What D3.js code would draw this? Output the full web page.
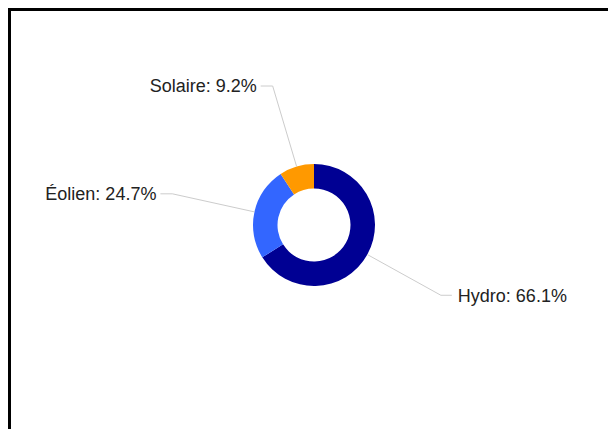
<!DOCTYPE html>
<html>
<head>
<meta charset="utf-8">
<script src="https://cdn.jsdelivr.net/npm/d3@7"></script>
<style>
  html, body { margin: 0; padding: 0; background: #fff; overflow: hidden; }
  svg { display: block; }
</style>
</head>
<body>
<svg id="chart" width="608" height="429"></svg>
<script>
const categories = ["Hydro", "Éolien", "Solaire"];
const values = [66.1, 24.7, 9.2];
const colors = ["#000093", "#3366ff", "#ff9900"];

const svg = d3.select("#chart");

// frame (extends past the visible window on the right/bottom)
svg.append("rect")
  .attr("x", 9.5).attr("y", 9.5)
  .attr("width", 700).attr("height", 600)
  .attr("fill", "none").attr("stroke", "#000").attr("stroke-width", 3);

const cx = 314, cy = 225;
const outerR = 61, innerR = 36.5;

const data = categories.map((c, i) => ({ name: c, value: values[i], color: colors[i] }));

const pie = d3.pie().sort(null).value(d => d.value);
const arcs = pie(data);
const arc = d3.arc().innerRadius(innerR).outerRadius(outerR);

const g = svg.append("g").attr("transform", `translate(${cx},${cy})`);

g.selectAll("path.slice").data(arcs).join("path")
  .attr("class", "slice")
  .attr("d", arc)
  .attr("fill", d => d.data.color);

const polar = (r, a) => [r * Math.sin(a), -r * Math.cos(a)];
const elbowR = 145;

arcs.forEach(d => {
  const mid = (d.startAngle + d.endAngle) / 2;
  const p0 = polar(outerR, mid);
  const p1 = polar(elbowR, mid);
  const right = Math.sin(mid) > 0;
  const p2 = [p1[0] + (right ? 11 : -12), p1[1]];
  g.append("polyline")
    .attr("points", [p0, p1, p2].map(p => p.join(",")).join(" "))
    .attr("fill", "none")
    .attr("stroke", "#cccccc")
    .attr("stroke-width", 1);
  g.append("text")
    .attr("x", p2[0] + (right ? 6 : -4))
    .attr("y", p2[1])
    .attr("dy", "0.35em")
    .attr("text-anchor", right ? "start" : "end")
    .attr("font-family", "Arial, 'Liberation Sans', sans-serif")
    .attr("font-size", 18)
    .attr("fill", "#222")
    .text(`${d.data.name}: ${d3.format(".1f")(d.data.value)}%`);
});
</script>
</body>
</html>
